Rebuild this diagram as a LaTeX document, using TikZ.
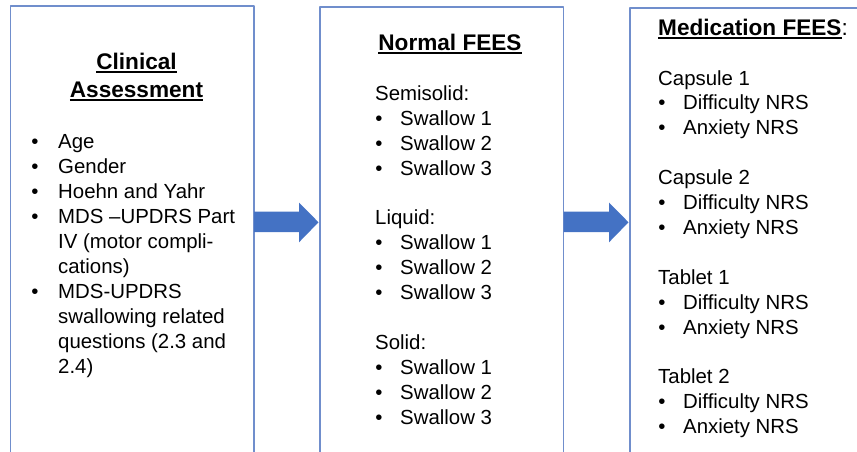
\documentclass[tikz,border=0pt]{standalone}
\usepackage{fontspec}
\setmainfont{Liberation Sans}
\usetikzlibrary{positioning,calc}
\definecolor{boxline}{RGB}{112,142,204}
\definecolor{arrowblue}{RGB}{68,114,196}
\newcommand{\bodysize}{\fontsize{20.4}{24.9}\selectfont}
\newcommand{\headsize}{\fontsize{22.6}{27}\selectfont}
% underline with a thicker rule
\newcommand{\undl}[1]{\setbox0\hbox{#1}\rlap{\rule[-3.2pt]{\wd0}{1.7pt}}\box0}
\tikzset{
  panel/.style={draw=boxline, line width=1.3pt, anchor=north west, inner sep=0pt, outer sep=0pt,
    minimum width=243.5pt, minimum height=480pt},
  txt/.style={anchor=base west, inner sep=0pt, font=\bodysize},
  bul/.style={anchor=base, inner sep=0pt, font=\bodysize},
  head/.style={anchor=base, inner sep=0pt, font=\headsize\bfseries},
}
\begin{document}
\begin{tikzpicture}[x=1pt, y=-1pt, line join=round]
  \useasboundingbox (0,0) rectangle (857,452);
  \clip (0,0) rectangle (857,452);
  % panels
  \node[panel] (clin) at (10.5,6) {};
  \node[panel] (normal) at (320,7) {};
  \node[panel, minimum width=260pt] (med) at (630,8) {};
  % block arrows
  \foreach \a/\b in {clin/normal, normal/med}{
    \fill[arrowblue] (\a.east |- 0,211.5) -- ($(\b.west |- 0,211.5)+(-21,0)$)
      -- ($(\b.west |- 0,202.5)+(-21,0)$) -- ($(\b.west |- 0,222.3)+(-1.5,0)$)
      -- ($(\b.west |- 0,242.3)+(-21,0)$) -- ($(\b.west |- 0,232)+(-21,0)$)
      -- (\a.east |- 0,232) -- cycle;
  }
  % Clinical Assessment
  \node[head] (ca1) at (136.5,70) {\undl{Clinical}};
  \node[head] (ca2) at (136.5,98) {\undl{Assessment}};
  \foreach \i in {0,1,2,3,6}
    \node[bul] (cb\i) at (35,148+25*\i) {\textbullet};
  \foreach \i/\t in {0/Age, 1/Gender, 2/Hoehn and Yahr, 3/MDS --UPDRS Part,
      4/IV (motor compli-, 5/cations), 6/MDS-UPDRS, 7/swallowing related,
      8/questions (2.3 and, 9/2.4)}
    \node[txt] (c\i) at (58,148+25*\i) {\t};
  % Normal FEES
  \node[head] (nf) at (450,51) {\undl{Normal FEES}};
  \foreach \g/\k in {0/Semisolid:, 5/Liquid:, 10/Solid:}{
    \node[txt] (n\g) at (375,100.4+24.9*\g) {\k};
    \foreach \j in {1,2,3}{
      \node[bul] (nb\g\j) at (379,100.4+24.9*\g+24.9*\j) {\textbullet};
      \node[txt] (ns\g\j) at (400,100.4+24.9*\g+24.9*\j) {Swallow \j};
    }
  }
  % Medication FEES
  \node[head, anchor=base west] (mf) at (658,36) {\undl{Medication FEES}{\mdseries:}};
  \foreach \g/\k in {0/Capsule 1, 4/Capsule 2, 8/Tablet 1, 12/Tablet 2}{
    \node[txt] (m\g) at (658,85+24.9*\g) {\k};
    \foreach \j/\s in {1/Difficulty NRS, 2/Anxiety NRS}{
      \node[bul] (mb\g\j) at (662,85+24.9*\g+24.9*\j) {\textbullet};
      \node[txt] (ms\g\j) at (683,85+24.9*\g+24.9*\j) {\s};
    }
  }
\end{tikzpicture}
\end{document}
